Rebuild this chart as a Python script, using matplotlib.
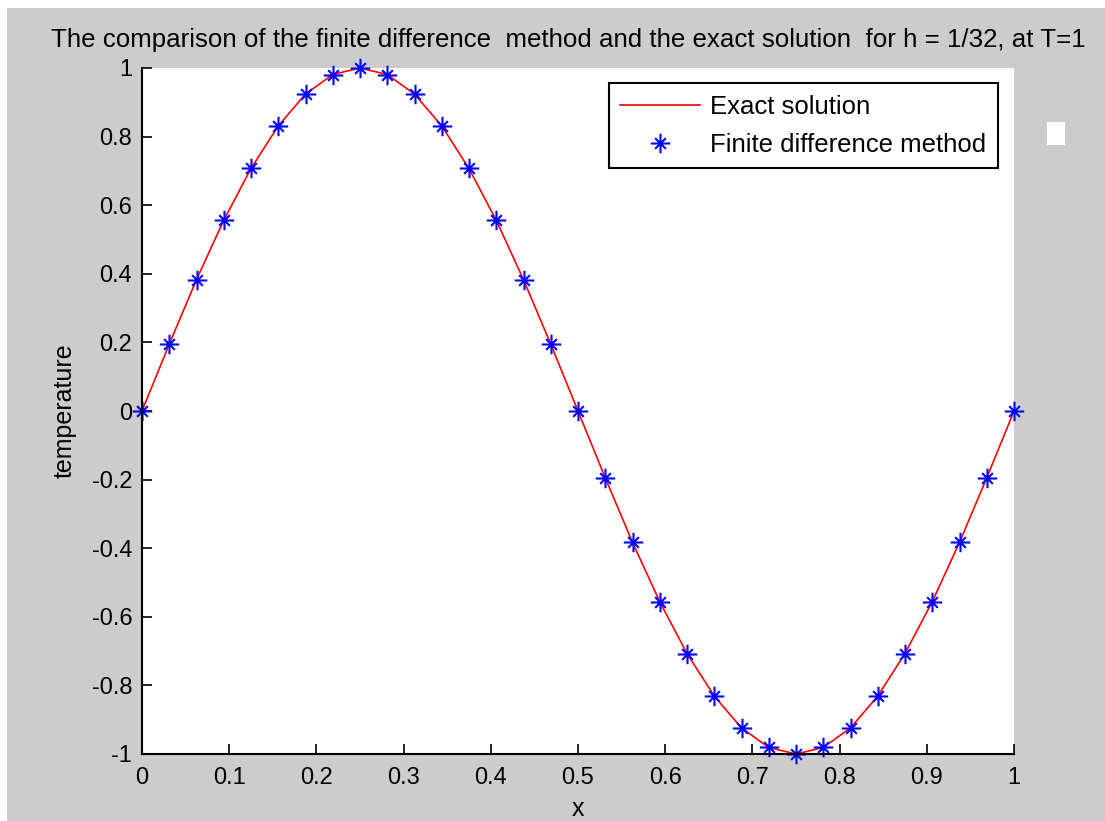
import matplotlib
matplotlib.use('Agg')
import matplotlib.pyplot as plt
from matplotlib.path import Path
from matplotlib.patches import Rectangle

# Plot Parameters
params = {'font.family': ['Liberation Sans', 'DejaVu Sans'],
          'axes.linewidth': 1.5,
          'xtick.direction': 'in',
          'ytick.direction': 'in',
          }
plt.rcParams.update(params)

# grid points, h = 1/32
x = [0.0, 0.03125, 0.0625, 0.09375, 0.125, 0.15625, 0.1875, 0.21875,
     0.25, 0.28125, 0.3125, 0.34375, 0.375, 0.40625, 0.4375, 0.46875,
     0.5, 0.53125, 0.5625, 0.59375, 0.625, 0.65625, 0.6875, 0.71875,
     0.75, 0.78125, 0.8125, 0.84375, 0.875, 0.90625, 0.9375, 0.96875, 1.0]

# temperature at T=1
exact_T = [0.0, 0.195, 0.383, 0.556, 0.707, 0.831, 0.924, 0.981,
           1.0, 0.981, 0.924, 0.831, 0.707, 0.556, 0.383, 0.195,
           0.0, -0.195, -0.383, -0.556, -0.707, -0.831, -0.924, -0.981,
           -1.0, -0.981, -0.924, -0.831, -0.707, -0.556, -0.383, -0.195, 0.0]
fdm_T = [0.0, 0.195, 0.383, 0.556, 0.707, 0.831, 0.924, 0.981,
         1.0, 0.981, 0.924, 0.831, 0.707, 0.556, 0.383, 0.195,
         0.0, -0.195, -0.383, -0.556, -0.707, -0.831, -0.924, -0.981,
         -1.0, -0.981, -0.924, -0.831, -0.707, -0.556, -0.383, -0.195, 0.0]

xticks = [0, 0.1, 0.2, 0.3, 0.4, 0.5, 0.6, 0.7, 0.8, 0.9, 1]
xticklabels = ['0', '0.1', '0.2', '0.3', '0.4', '0.5', '0.6', '0.7', '0.8', '0.9', '1']
yticks = [-1, -0.8, -0.6, -0.4, -0.2, 0, 0.2, 0.4, 0.6, 0.8, 1]
yticklabels = ['-1', '-0.8', '-0.6', '-0.4', '-0.2', '0', '0.2', '0.4', '0.6', '0.8', '1']

# asterisk marker: plus with shorter diagonals
d = 0.55
star = Path([(0, -1), (0, 1), (-1, 0), (1, 0),
             (-d, -d), (d, d), (-d, d), (d, -d)],
            [Path.MOVETO, Path.LINETO] * 4)

W, H = 1105, 821
fig = plt.figure(figsize=(W / 100, H / 100), dpi=100, facecolor='white')
fig.patches.append(Rectangle((7 / W, 0), 1 - 7 / W, 1 - 8 / H,
                             transform=fig.transFigure, facecolor='#cccccc',
                             edgecolor='none', zorder=-10))
fig.patches.append(Rectangle((1047 / W, 1 - 145 / H), 18 / W, 23 / H,
                             transform=fig.transFigure, facecolor='white',
                             edgecolor='none'))

ax = fig.add_axes([142 / W, 1 - 754 / H, 872 / W, 686 / H])
ax.set_facecolor('white')

ax.plot(x, exact_T, c='r', lw=1.2, label='Exact solution')
ax.plot(x, fdm_T, ls='none', marker=star, ms=14, mew=1.5, mec='b',
        mfc='b', label='Finite difference method', clip_on=False)

ax.set_xlim(0, 1)
ax.set_ylim(-1, 1)
ax.set_xticks(xticks)
ax.set_xticklabels(xticklabels)
ax.set_yticks(yticks)
ax.set_yticklabels(yticklabels)
ax.tick_params(labelsize=17, length=7, width=1.2, pad=7)
ax.tick_params(axis='x', pad=9)
for s in ['top', 'right']:
    ax.spines[s].set_visible(False)

ax.set_title('The comparison of the finite difference  method and the exact solution  for h = 1/32, at T=1',
             fontsize=18.6, x=(568 - 142) / 872, pad=15)
ax.set_xlabel('x', fontsize=18, labelpad=6)
ax.set_ylabel('temperature', fontsize=18, labelpad=11)

leg = ax.legend(loc='upper right', bbox_to_anchor=(998 / W, 1 - 83 / H),
                bbox_transform=fig.transFigure, borderaxespad=0,
                fontsize=18.5, handlelength=3.1, handletextpad=0.4,
                labelspacing=0.55, borderpad=0.45, fancybox=False,
                framealpha=1, edgecolor='k')
leg.get_frame().set_linewidth(1.5)

plt.savefig('out.png', dpi=100, facecolor=fig.get_facecolor())
